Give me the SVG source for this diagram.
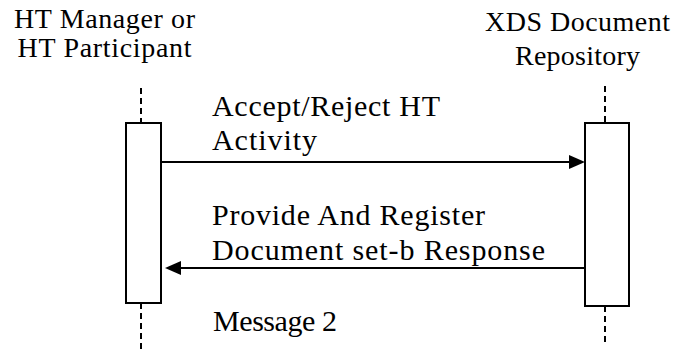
<svg xmlns="http://www.w3.org/2000/svg" width="674" height="355" viewBox="0 0 674 355">
<style>
text{font-family:"Liberation Serif","Times New Roman",serif;fill:#000}
.t{font-size:28px}
.m{font-size:30px}
.life{stroke:#000;stroke-width:2;stroke-dasharray:6,4;fill:none}
.box{fill:#fff;stroke:#000;stroke-width:2}
.msg{stroke:#000;stroke-width:2;fill:none}
</style>
<rect width="674" height="355" fill="#fff"/>
<g id="participant-left">
<text class="t" x="14" y="28" textLength="181" lengthAdjust="spacing">HT Manager or</text>
<text class="t" x="17.5" y="57" textLength="174" lengthAdjust="spacing">HT Participant</text>
<line class="life" x1="141" y1="88" x2="141" y2="123"/>
<line class="life" x1="141" y1="303" x2="141" y2="350"/>
<rect class="box" x="126" y="123" width="35" height="180"/>
</g>
<g id="participant-right">
<text class="t" x="485" y="31" textLength="185" lengthAdjust="spacing">XDS Document</text>
<text class="t" x="515" y="65" textLength="125" lengthAdjust="spacing">Repository</text>
<line class="life" x1="605" y1="86" x2="605" y2="123"/>
<line class="life" x1="605" y1="306" x2="605" y2="343"/>
<rect class="box" x="585" y="123" width="44" height="183"/>
</g>
<g id="connectors">
<line class="msg" x1="161" y1="162" x2="571" y2="162"/>
<polygon points="585,162 569,155 569,169" fill="#000"/>
<line class="msg" x1="585" y1="268" x2="178" y2="268"/>
<polygon points="165,268 181,261 181,275" fill="#000"/>
</g>
<g id="labels">
<text class="m" x="212" y="116" textLength="228" lengthAdjust="spacing">Accept/Reject HT</text>
<text class="m" x="212" y="150" textLength="105" lengthAdjust="spacing">Activity</text>
<text class="m" x="212" y="225" textLength="273" lengthAdjust="spacing">Provide And Register</text>
<text class="m" x="212" y="260" textLength="333" lengthAdjust="spacing">Document set-b Response</text>
<text class="m" x="213" y="331" textLength="124" lengthAdjust="spacing">Message 2</text>
</g>
</svg>
